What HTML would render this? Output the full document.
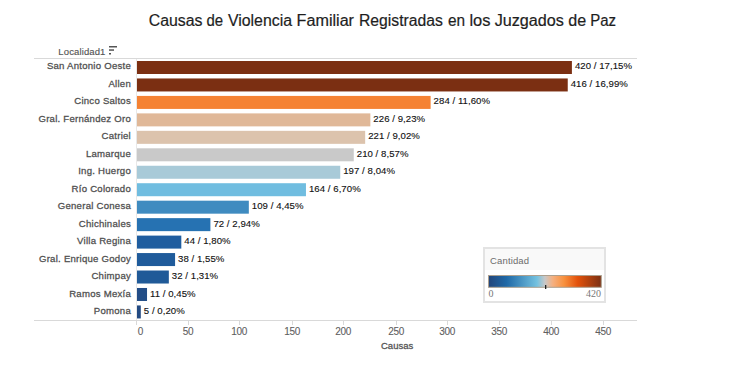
<!DOCTYPE html>
<html><head><meta charset="utf-8">
<style>
html,body{margin:0;padding:0;background:#fff;width:734px;height:386px;overflow:hidden}
svg{display:block;font-family:"Liberation Sans",sans-serif}
.title{font-size:16px;fill:#1e1e1e;stroke:#1e1e1e;stroke-width:0.2px}
.rl{font-size:9.6px;letter-spacing:0.24px;fill:#505050;stroke:#505050;stroke-width:0.28px}
.vl{font-size:9.6px;letter-spacing:0.05px;fill:#111;stroke:#111;stroke-width:0.12px}
.tl{font-size:10px;letter-spacing:-0.3px;fill:#606060;stroke:#606060;stroke-width:0.1px}
.hd{font-size:9.5px;letter-spacing:0.12px;fill:#555;stroke:#555;stroke-width:0.15px}
.ax{font-size:9.5px;fill:#555;stroke:#555;stroke-width:0.3px}
.lh{font-size:9.5px;letter-spacing:0.15px;fill:#6c6c6c}
.lg{font-family:"Liberation Serif",serif;font-size:10px;fill:#777}
</style></head><body>
<svg width="734" height="386" viewBox="0 0 734 386">
<defs>
<linearGradient id="g" x1="0" x2="1" y1="0" y2="0">
<stop offset="0" stop-color="#22457a"/>
<stop offset="0.16" stop-color="#1f69a7"/>
<stop offset="0.43" stop-color="#74c2e0"/>
<stop offset="0.5" stop-color="#c8c8c8"/>
<stop offset="0.57" stop-color="#f5b080"/>
<stop offset="0.67" stop-color="#f8913e"/>
<stop offset="0.79" stop-color="#e3520c"/>
<stop offset="1" stop-color="#7b3013"/>
</linearGradient>
</defs>
<text class="title" x="148.7" y="26" textLength="53.7" lengthAdjust="spacingAndGlyphs">Causas</text><text class="title" x="206.5" y="26" textLength="16.6" lengthAdjust="spacingAndGlyphs">de</text><text class="title" x="227.9" y="26" textLength="64.1" lengthAdjust="spacingAndGlyphs">Violencia</text><text class="title" x="296.6" y="26" textLength="57.4" lengthAdjust="spacingAndGlyphs">Familiar</text><text class="title" x="359.0" y="26" textLength="83.8" lengthAdjust="spacingAndGlyphs">Registradas</text><text class="title" x="448.0" y="26" textLength="17.1" lengthAdjust="spacingAndGlyphs">en</text><text class="title" x="469.4" y="26" textLength="21.0" lengthAdjust="spacingAndGlyphs">los</text><text class="title" x="494.7" y="26" textLength="69.2" lengthAdjust="spacingAndGlyphs">Juzgados</text><text class="title" x="568.2" y="26" textLength="17.9" lengthAdjust="spacingAndGlyphs">de</text><text class="title" x="590.2" y="26" textLength="25.8" lengthAdjust="spacingAndGlyphs">Paz</text>
<text class="hd" x="105.5" y="55" text-anchor="end">Localidad1</text>
<rect x="109" y="46" width="8" height="1.5" fill="#555"/>
<rect x="109" y="49.3" width="5" height="1.5" fill="#555"/>
<rect x="109" y="53" width="2" height="1.5" fill="#555"/>
<rect x="34" y="58" width="603" height="1" fill="#d9d9d9"/>
<rect x="34" y="320" width="603" height="1" fill="#d9d9d9"/>
<rect x="136" y="59" width="1" height="261" fill="#e8e8e8"/>
<rect x="136" y="321" width="1" height="4" fill="#d9d9d9"/><text class="tl" x="140.35" y="335" text-anchor="middle">0</text><rect x="188" y="321" width="1" height="4" fill="#d9d9d9"/><text class="tl" x="188.1" y="335" text-anchor="middle">50</text><rect x="239" y="321" width="1" height="4" fill="#d9d9d9"/><text class="tl" x="239.1" y="335" text-anchor="middle">100</text><rect x="292" y="321" width="1" height="4" fill="#d9d9d9"/><text class="tl" x="292.1" y="335" text-anchor="middle">150</text><rect x="343" y="321" width="1" height="4" fill="#d9d9d9"/><text class="tl" x="343.1" y="335" text-anchor="middle">200</text><rect x="396" y="321" width="1" height="4" fill="#d9d9d9"/><text class="tl" x="396.1" y="335" text-anchor="middle">250</text><rect x="447" y="321" width="1" height="4" fill="#d9d9d9"/><text class="tl" x="447.1" y="335" text-anchor="middle">300</text><rect x="499" y="321" width="1" height="4" fill="#d9d9d9"/><text class="tl" x="499.1" y="335" text-anchor="middle">350</text><rect x="551" y="321" width="1" height="4" fill="#d9d9d9"/><text class="tl" x="551.1" y="335" text-anchor="middle">400</text><rect x="603" y="321" width="1" height="4" fill="#d9d9d9"/><text class="tl" x="603.1" y="335" text-anchor="middle">450</text>
<rect x="137" y="61.00" width="434.90" height="13.0" fill="#7b2f12"/><text class="rl" x="131" y="69" text-anchor="end">San Antonio Oeste</text><text class="vl" x="574.90" y="69">420 / 17,15%</text><rect x="137" y="78.46" width="430.74" height="13.0" fill="#7b2f12"/><text class="rl" x="131" y="87" text-anchor="end">Allen</text><text class="vl" x="570.74" y="87">416 / 16,99%</text><rect x="137" y="95.92" width="293.62" height="13.0" fill="#f58233"/><text class="rl" x="131" y="104" text-anchor="end">Cinco Saltos</text><text class="vl" x="433.62" y="104">284 / 11,60%</text><rect x="137" y="113.38" width="233.37" height="13.0" fill="#e0b898"/><text class="rl" x="131" y="122" text-anchor="end">Gral. Fernández Oro</text><text class="vl" x="373.37" y="122">226 / 9,23%</text><rect x="137" y="130.84" width="228.17" height="13.0" fill="#dcc3ad"/><text class="rl" x="131" y="139" text-anchor="end">Catriel</text><text class="vl" x="368.17" y="139">221 / 9,02%</text><rect x="137" y="148.30" width="216.75" height="13.0" fill="#c9c9c9"/><text class="rl" x="131" y="157" text-anchor="end">Lamarque</text><text class="vl" x="356.75" y="157">210 / 8,57%</text><rect x="137" y="165.76" width="203.24" height="13.0" fill="#a8cad8"/><text class="rl" x="131" y="174" text-anchor="end">Ing. Huergo</text><text class="vl" x="343.24" y="174">197 / 8,04%</text><rect x="137" y="183.22" width="168.96" height="13.0" fill="#70bde0"/><text class="rl" x="131" y="192" text-anchor="end">Río Colorado</text><text class="vl" x="308.96" y="192">164 / 6,70%</text><rect x="137" y="200.68" width="111.83" height="13.0" fill="#3f8bc0"/><text class="rl" x="131" y="209" text-anchor="end">General Conesa</text><text class="vl" x="251.83" y="209">109 / 4,45%</text><rect x="137" y="218.14" width="73.39" height="13.0" fill="#2672b2"/><text class="rl" x="131" y="227" text-anchor="end">Chichinales</text><text class="vl" x="213.39" y="227">72 / 2,94%</text><rect x="137" y="235.60" width="44.31" height="13.0" fill="#1f5d9f"/><text class="rl" x="131" y="244" text-anchor="end">Villa Regina</text><text class="vl" x="184.31" y="244">44 / 1,80%</text><rect x="137" y="253.06" width="38.07" height="13.0" fill="#1f5b9b"/><text class="rl" x="131" y="262" text-anchor="end">Gral. Enrique Godoy</text><text class="vl" x="178.07" y="262">38 / 1,55%</text><rect x="137" y="270.52" width="31.84" height="13.0" fill="#205a98"/><text class="rl" x="131" y="279" text-anchor="end">Chimpay</text><text class="vl" x="171.84" y="279">32 / 1,31%</text><rect x="137" y="287.98" width="10.03" height="13.0" fill="#224d87"/><text class="rl" x="131" y="297" text-anchor="end">Ramos Mexía</text><text class="vl" x="150.03" y="297">11 / 0,45%</text><rect x="137" y="305.44" width="3.79" height="13.0" fill="#234a82"/><text class="rl" x="131" y="314" text-anchor="end">Pomona</text><text class="vl" x="143.79" y="314">5 / 0,20%</text>
<text class="ax" x="381" y="349">Causas</text>
<rect x="483" y="247" width="123" height="56" fill="#e3e3e3"/>
<rect x="485" y="249" width="119" height="52" fill="#fff"/>
<rect x="485" y="249" width="119" height="21" fill="#f9f9f9"/>
<text class="lh" x="490" y="264">Cantidad</text>
<rect x="488.5" y="275.5" width="112.8" height="11.8" fill="url(#g)" stroke="#aca08f" stroke-width="1"/>
<rect x="545" y="285" width="1.3" height="4" fill="#222"/>
<text class="lg" x="488.6" y="297">0</text>
<text class="lg" x="601" y="297" text-anchor="end">420</text>
</svg>
</body></html>
